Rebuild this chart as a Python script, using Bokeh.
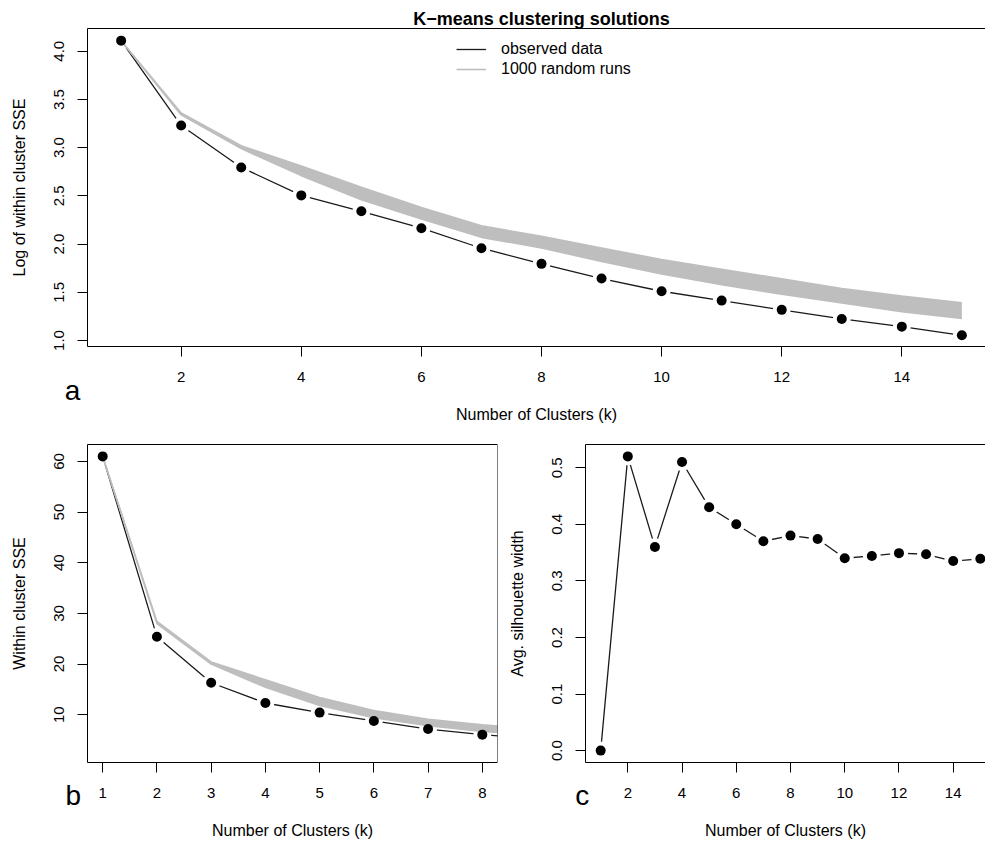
from bokeh.plotting import figure
from bokeh.models import (ColumnDataSource, FixedTicker, LinearAxis, Legend,
                          LegendItem, Label, Range1d, NumeralTickFormatter)
from bokeh.layouts import column, row
from bokeh.embed import file_html
from bokeh.resources import INLINE

FONT = "Liberation Sans"

# ---------------- data ----------------
k_all = [1, 2, 3, 4, 5, 6, 7, 8, 9, 10, 11, 12, 13, 14, 15]
log_sse_observed = [4.11, 3.23, 2.795, 2.505, 2.34, 2.165, 1.957, 1.795,
                    1.643, 1.511, 1.414, 1.318, 1.224, 1.144, 1.054]
log_sse_random_upper = [4.11, 3.36, 3.02, 2.81, 2.59, 2.38, 2.19, 2.08,
                        1.96, 1.84, 1.74, 1.64, 1.54, 1.46, 1.39]
log_sse_random_lower = [4.11, 3.34, 2.99, 2.71, 2.46, 2.26, 2.07, 1.96,
                        1.82, 1.69, 1.58, 1.48, 1.39, 1.30, 1.23]

k_sse = [1, 2, 3, 4, 5, 6, 7, 8, 9]
sse_observed = [61.0, 25.4, 16.3, 12.3, 10.4, 8.75, 7.15, 6.05, 5.15]
sse_random_upper = [61.0, 28.4, 20.4, 16.9, 13.4, 10.8, 9.1, 8.0, 7.2]
sse_random_lower = [61.0, 28.0, 20.0, 15.4, 11.8, 9.4, 7.8, 6.7, 6.0]

silhouette_width = [0.0, 0.52, 0.36, 0.51, 0.43, 0.40, 0.37, 0.38, 0.374,
                    0.34, 0.344, 0.349, 0.347, 0.335, 0.339]

top_x_ticks = [2, 4, 6, 8, 10, 12, 14]
top_y_ticks = [1.0, 1.5, 2.0, 2.5, 3.0, 3.5, 4.0]
b_x_ticks = [1, 2, 3, 4, 5, 6, 7, 8]
b_y_ticks = [10, 20, 30, 40, 50, 60]
c_x_ticks = [2, 4, 6, 8, 10, 12, 14]
c_y_ticks = [0.0, 0.1, 0.2, 0.3, 0.4, 0.5]

# axis extents of each panel's box (R-style 4% padding)
top_xlim, top_ylim = (0.44, 15.56), (0.938, 4.236)
b_xlim, b_ylim = (0.72, 8.28), (0.55, 63.35)
c_xlim, c_ylim = (0.44, 15.56), (-0.021, 0.541)

title_text = "K\u2212means clustering solutions"
x_title = "Number of Clusters (k)"

BAND = "#BEBEBE"
INK = "#000000"


class Geo:
    """Pixel geometry of a panel: frame size and the plot box inside it."""

    def __init__(self, W, H, L, T, R, B, xlim, ylim):
        self.W, self.H, self.L, self.T, self.R, self.B = W, H, L, T, R, B
        self.x0, self.x1 = xlim
        self.y0, self.y1 = ylim
        self.sx = (self.x1 - self.x0) / (R - L)
        self.sy = (self.y1 - self.y0) / (B - T)

    def x_range(self):
        return Range1d(self.x0 - self.L * self.sx,
                       self.x0 + (self.W - self.L) * self.sx)

    def y_range(self):
        return Range1d(self.y0 - (self.H - self.B) * self.sy,
                       self.y1 + self.T * self.sy)

    def dx(self, px):
        return self.x0 + (px - self.L) * self.sx

    def dy(self, py):
        return self.y0 + (self.B - py) * self.sy


def make_fig(geo, width, height, right_border=0):
    p = figure(width=width, height=height, x_range=geo.x_range(),
               y_range=geo.y_range(), output_backend="svg",
               toolbar_location=None, min_border=0,
               min_border_left=0, min_border_top=0, min_border_bottom=0,
               min_border_right=right_border)
    p.outline_line_color = None
    p.grid.grid_line_color = None
    return p


def style_axes(p, geo, xticks, yticks, ylabel, yfmt):
    for ax in (p.xaxis[0], p.yaxis[0]):
        ax.axis_line_color = INK
        ax.axis_line_width = 1
        ax.major_tick_line_color = INK
        ax.major_tick_in = 0
        ax.major_tick_out = 10
        ax.minor_tick_line_color = None
        ax.major_label_text_font = FONT
        ax.major_label_text_font_size = "15px"
        ax.major_label_text_color = INK
        ax.axis_label_text_font = FONT
        ax.axis_label_text_font_size = "16px"
        ax.axis_label_text_font_style = "normal"
        ax.axis_label_text_color = INK
    xa = p.xaxis[0]
    xa.fixed_location = geo.y0
    xa.bounds = (geo.x0, geo.x1)
    xa.ticker = FixedTicker(ticks=xticks)
    xa.axis_label = x_title
    xa.major_label_standoff = 15
    xa.axis_label_standoff = 21
    ya = p.yaxis[0]
    ya.fixed_location = geo.x0
    ya.bounds = (geo.y0, geo.y1)
    ya.ticker = FixedTicker(ticks=yticks)
    ya.formatter = NumeralTickFormatter(format=yfmt)
    ya.axis_label = ylabel
    ya.major_label_orientation = "vertical"
    ya.major_label_standoff = 13
    ya.axis_label_standoff = 24
    # top line of the box
    top = LinearAxis(ticker=FixedTicker(ticks=[]), axis_line_color=INK,
                     axis_line_width=1, major_tick_line_color=None,
                     minor_tick_line_color=None,
                     major_label_text_font_size="0px",
                     fixed_location=geo.y1, bounds=(geo.x0, geo.x1))
    p.add_layout(top, "above")


def letter(p, geo, px, py, txt):
    p.add_layout(Label(x=geo.dx(px), y=geo.dy(py), text=txt, text_font=FONT,
                       text_font_size="28px", text_color=INK,
                       text_align="center", text_baseline="alphabetic"))


def observed(p, x, y, with_band=None):
    src = ColumnDataSource(dict(x=x, y=y))
    ln = p.line("x", "y", source=src, line_color="#1a1a1a", line_width=1.3)
    p.scatter("x", "y", source=src, size=18, fill_color="white",
              line_color=None)
    edge = None
    if with_band is not None:
        lo, hi = with_band
        bsrc = ColumnDataSource(dict(x=x, lo=lo, hi=hi))
        p.varea(x="x", y1="lo", y2="hi", source=bsrc, fill_color=BAND)
        edge = p.line("x", "hi", source=bsrc, line_color=BAND, line_width=1.6)
        p.line("x", "lo", source=bsrc, line_color=BAND, line_width=1.6)
    p.scatter("x", "y", source=src, size=10, fill_color=INK, line_color=None)
    return ln, edge


# ---------------- panel a ----------------
ga = Geo(985, 430, 87, 28, 995, 346, top_xlim, top_ylim)
pa = make_fig(ga, 985, 430)
style_axes(pa, ga, top_x_ticks, top_y_ticks, "Log of within cluster SSE", "0.0")
pa.xaxis[0].major_label_standoff = 16
pa.xaxis[0].axis_label_standoff = 19
obs_line, band_edge = observed(pa, k_all, log_sse_observed,
                               (log_sse_random_lower, log_sse_random_upper))
legend = Legend(items=[LegendItem(label="observed data", renderers=[obs_line]),
                       LegendItem(label="1000 random runs",
                                  renderers=[band_edge])],
                location=(456, 430 - 79), border_line_color=None,
                background_fill_alpha=0, padding=0, margin=0, spacing=0,
                glyph_width=30, glyph_height=20, label_height=20,
                label_standoff=15, label_text_font=FONT,
                label_text_font_size="16px", label_text_color=INK)
pa.add_layout(legend)
pa.add_layout(Label(x=ga.dx(541), y=ga.dy(18), text=title_text,
                    text_font=FONT, text_font_size="18px",
                    text_font_style="bold", text_color=INK,
                    text_align="center", text_baseline="alphabetic"))
letter(pa, ga, 72, 390, "a")

# ---------------- panel b ----------------
gb = Geo(497, 411, 87, 14, 497, 332, b_xlim, b_ylim)
pb = make_fig(gb, 505, 411, right_border=8)
style_axes(pb, gb, b_x_ticks, b_y_ticks, "Within cluster SSE", "0")
right = LinearAxis(ticker=FixedTicker(ticks=[]), axis_line_color=INK,
                   axis_line_width=1, major_tick_line_color=None,
                   minor_tick_line_color=None,
                   major_label_text_font_size="0px",
                   fixed_location=gb.x1, bounds=(gb.y0, gb.y1))
pb.add_layout(right, "right")
observed(pb, k_sse, sse_observed, (sse_random_lower, sse_random_upper))
letter(pb, gb, 72.7, 365, "b")

# ---------------- panel c ----------------
gc = Geo(480, 411, 80, 14, 490, 332, c_xlim, c_ylim)
pc = make_fig(gc, 480, 411)
style_axes(pc, gc, c_x_ticks, c_y_ticks, "Avg. silhouette width", "0.0")
observed(pc, k_all, silhouette_width)
letter(pc, gc, 76.7, 365, "c")

layout = column(pa, row(pb, pc))
open("out.html", "w").write(file_html(layout, INLINE))
